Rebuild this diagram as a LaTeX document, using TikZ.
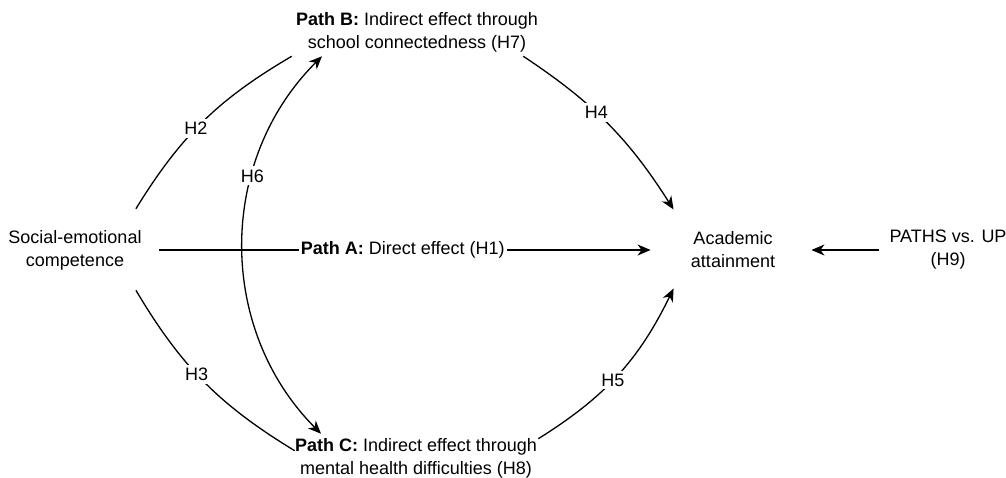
\documentclass[tikz,border=0pt]{standalone}
\usepackage{fontspec}
\setmainfont{Liberation Sans}
\usetikzlibrary{arrows.meta}
\begin{document}
\begin{tikzpicture}[x=0.5pt,y=-0.5pt,
  lbl/.style={font=\fontsize{9}{11.5}\selectfont, align=center, inner sep=2pt},
  conn/.style={line width=0.65pt},
  tip/.style={-{Stealth[length=6.5pt,width=5.5pt,inset=2pt]}},
  both/.style={{Stealth[length=6.5pt,width=5.5pt,inset=2pt]}-{Stealth[length=6.5pt,width=5.5pt,inset=2pt]}},
  hlab/.style={font=\fontsize{9}{11}\selectfont, fill=white, inner sep=1.5pt}]
\useasboundingbox (0,0) rectangle (1006,477);
\node[lbl] (se) at (75,250) {Social-emotional\\competence};
\node[lbl] (aa) at (733,250) {Academic\\attainment};
\node[lbl] (pu) at (948,250) {PATHS vs. UP\\(H9)};
\node[lbl] (pB) at (417,32) {\textbf{Path B:} Indirect effect through\\school connectedness (H7)};
\node[lbl] (pC) at (416,458) {\textbf{Path C:} Indirect effect through\\mental health difficulties (H8)};
% Path A
\draw[conn,tip,shorten <=6.5pt,shorten >=18pt] (se.east) -- node[lbl,fill=white,inner sep=1pt,pos=0.475]{\textbf{Path A:} Direct effect (H1)} (aa.west);
% H9
\draw[conn,tip,shorten <=3pt,shorten >=16pt] (pu.west) -- (aa.east);
% H2
\draw[conn] ([shift={(-10,-17)}]se.north east) to[bend left=14] node[hlab,pos=0.45]{H2} (pB.south west);
% H3
\draw[conn] ([shift={(-10,16)}]se.south east) to[bend right=14] node[hlab,pos=0.45]{H3} ([shift={(4,17)}]pC.north west);
% H6
\draw[conn,both] ([shift={(-95,0)}]pB.south) to[bend right=45] node[hlab,pos=0.33]{H6} ([shift={(-95,0)}]pC.north);
% H4
\draw[conn,tip] ([shift={(-19,0)}]pB.south east) to[bend left=12] node[hlab,pos=0.42]{H4} ([shift={(-13,-18)}]aa.north west);
% H5
\draw[conn,tip] ([shift={(-3,5)}]pC.north east) to[bend right=16] node[hlab,pos=0.46]{H5} ([shift={(-13,16)}]aa.south west);
\end{tikzpicture}
\end{document}
